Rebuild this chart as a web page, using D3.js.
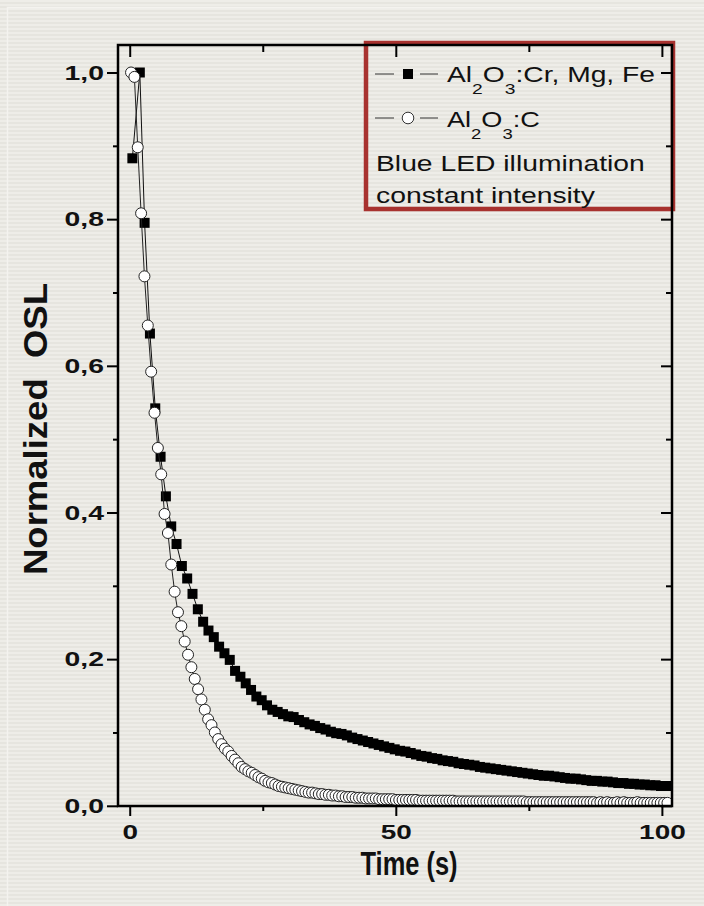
<!DOCTYPE html>
<html>
<head>
<meta charset="utf-8">
<script src="https://cdn.jsdelivr.net/npm/d3@7"></script>
<style>
  html, body { margin: 0; padding: 0; background: #ecebe6; }
  svg { display: block; }
  text { font-family: "Liberation Sans", Arial, sans-serif; fill: #111; }
</style>
</head>
<body>
<svg id="chart" width="704" height="906"></svg>
<script>
// Al2O3:Cr, Mg, Fe  (filled squares)
var crTimes = [0.5, 1.9].concat(d3.range(2.8, 101.5, 1.0));
var crValues = [
    0.883, 1.000, 0.795, 0.644, 0.542, 0.476, 0.422, 0.381, 0.357, 0.327,
    0.310, 0.289, 0.268, 0.251, 0.239, 0.230, 0.217, 0.208, 0.199, 0.184,
    0.176, 0.167, 0.158, 0.149, 0.144, 0.137, 0.131, 0.128, 0.125, 0.122,
    0.121, 0.117, 0.114, 0.111, 0.109, 0.106, 0.104, 0.101, 0.099, 0.098,
    0.096, 0.093, 0.091, 0.089, 0.087, 0.085, 0.083, 0.081, 0.079, 0.077,
    0.075, 0.074, 0.072, 0.070, 0.068, 0.067, 0.065, 0.064, 0.062, 0.061,
    0.060, 0.058, 0.057, 0.056, 0.055, 0.053, 0.052, 0.051, 0.050, 0.049,
    0.048, 0.047, 0.046, 0.045, 0.044, 0.043, 0.042, 0.041, 0.041, 0.040,
    0.039, 0.038, 0.037, 0.037, 0.036, 0.035, 0.034, 0.034, 0.033, 0.033,
    0.032, 0.031, 0.031, 0.030, 0.030, 0.029, 0.029, 0.028, 0.028, 0.027,
    0.027
];

// Al2O3:C  (open circles)
var cTimes = d3.range(0, 161).map(function (i) { return 0.25 + 0.63 * i; });
var cValues = [
    1.000, 0.994, 0.898, 0.808, 0.722, 0.655, 0.592, 0.536, 0.488, 0.452,
    0.398, 0.372, 0.329, 0.292, 0.264, 0.245, 0.224, 0.206, 0.189, 0.173,
    0.159, 0.145, 0.131, 0.118, 0.110, 0.100, 0.091, 0.084, 0.078, 0.074,
    0.068, 0.063, 0.058, 0.053, 0.050, 0.047, 0.045, 0.042, 0.039, 0.037,
    0.034, 0.032, 0.031, 0.029, 0.027, 0.026, 0.025, 0.024, 0.023, 0.022,
    0.021, 0.020, 0.019, 0.018, 0.018, 0.017, 0.016, 0.016, 0.015, 0.015,
    0.014, 0.014, 0.013, 0.013, 0.012, 0.012, 0.012, 0.011, 0.011, 0.011,
    0.010, 0.010, 0.010, 0.010, 0.009, 0.009, 0.009, 0.009, 0.009, 0.008,
    0.008, 0.008, 0.008, 0.008, 0.008, 0.008, 0.007, 0.007, 0.007, 0.007,
    0.007, 0.007, 0.007, 0.007, 0.007, 0.007, 0.007, 0.006, 0.006, 0.006,
    0.006, 0.006, 0.006, 0.006, 0.006, 0.006, 0.006, 0.006, 0.006, 0.006,
    0.006, 0.006, 0.006, 0.006, 0.006, 0.006, 0.006, 0.006, 0.005, 0.005,
    0.005, 0.005, 0.005, 0.005, 0.005, 0.005, 0.005, 0.005, 0.005, 0.005,
    0.005, 0.005, 0.005, 0.005, 0.005, 0.005, 0.005, 0.005, 0.005, 0.004,
    0.005, 0.004, 0.005, 0.004, 0.004, 0.005, 0.004, 0.005, 0.004, 0.004,
    0.004, 0.005, 0.004, 0.004, 0.004, 0.004, 0.004, 0.004, 0.004, 0.004,
    0.004
];

var xMajor = [0, 50, 100];
var xMinor = [25, 75];
var yMajor = [0, 0.2, 0.4, 0.6, 0.8, 1.0];
var yMinor = [0.1, 0.3, 0.5, 0.7, 0.9];

// legend: [text, isSubscript]
var legendNames = [
    {parts: [["Al", 0], ["2", 1], ["O", 0], ["3", 1], [":Cr, Mg, Fe", 0]], symbol: "square"},
    {parts: [["Al", 0], ["2", 1], ["O", 0], ["3", 1], [":C", 0]], symbol: "circle"}
];
var legendNotes = ["Blue LED illumination", "constant intensity"];

var svg = d3.select('#chart');

// striped slide background
var defs = svg.append('defs');
var pat = defs.append('pattern')
    .attr('id', 'stripes')
    .attr('patternUnits', 'userSpaceOnUse')
    .attr('width', 8).attr('height', 4);
pat.append('rect').attr('width', 8).attr('height', 4).attr('fill', '#eeede8');
pat.append('rect').attr('y', 2).attr('width', 8).attr('height', 2).attr('fill', '#e6e5df');

svg.append('rect').attr('width', 704).attr('height', 906).attr('fill', 'url(#stripes)');
svg.append('rect')
    .attr('x', 7.5).attr('y', 7.5).attr('width', 700).attr('height', 900)
    .attr('fill', 'none').attr('stroke', '#f4f3ef').attr('stroke-width', 1.5);

var pLeft = 118, pRight = 672, pTop = 45, pBottom = 806;

var x = d3.scaleLinear().domain([-2.2, 101.9]).range([pLeft, pRight]);
var y = d3.scaleLinear().domain([0, 1.0375]).range([805.8, pTop]);

defs.append('clipPath').attr('id', 'plotclip')
    .append('rect')
    .attr('x', pLeft).attr('y', pTop)
    .attr('width', pRight - pLeft).attr('height', pBottom - pTop);

// stretch a text horizontally so that it spans the given width
function fitWidth(node, anchorX, target) {
    var w = node.getBBox().width;
    var s = target / w;
    d3.select(node).attr('transform',
        'translate(' + anchorX + ',0) scale(' + s + ',1) translate(' + (-anchorX) + ',0)');
}

// legend box (drawn below the frame so frame ticks sit on it)
var legend = svg.append('g');
legend.append('rect')
    .attr('x', 366).attr('y', 43)
    .attr('width', 307).attr('height', 166)
    .attr('fill', 'none')
    .attr('stroke', '#a8322f')
    .attr('stroke-width', 4.5);

// data
var plot = svg.append('g').attr('clip-path', 'url(#plotclip)');

var crData = crTimes.map(function (t, i) { return [t, crValues[i]]; });
var cData = cTimes.map(function (t, i) { return [t, cValues[i]]; });

var line = d3.line()
    .x(function (d) { return x(d[0]); })
    .y(function (d) { return y(d[1]); });

plot.append('path')
    .datum(crData)
    .attr('d', line)
    .attr('fill', 'none')
    .attr('stroke', '#111')
    .attr('stroke-width', 1);

plot.selectAll('rect.sq')
    .data(crData)
    .enter()
    .append('rect')
    .attr('class', 'sq')
    .attr('x', function (d) { return x(d[0]) - 5; })
    .attr('y', function (d) { return y(d[1]) - 5; })
    .attr('width', 10)
    .attr('height', 10)
    .attr('fill', '#000');

plot.append('path')
    .datum(cData)
    .attr('d', line)
    .attr('fill', 'none')
    .attr('stroke', '#222')
    .attr('stroke-width', 1);

plot.selectAll('circle.ci')
    .data(cData)
    .enter()
    .append('circle')
    .attr('class', 'ci')
    .attr('cx', function (d) { return x(d[0]); })
    .attr('cy', function (d) { return y(d[1]); })
    .attr('r', 5.5)
    .attr('fill', '#fff')
    .attr('stroke', '#222')
    .attr('stroke-width', 1);

// axes
function styleAxis(g) {
    g.select('.domain').remove();
    g.selectAll('line').attr('stroke', '#000').attr('stroke-width', 2);
    g.selectAll('text')
        .style('font-family', '"Liberation Sans", Arial, sans-serif')
        .style('font-weight', 'bold')
        .style('font-size', '21px')
        .attr('fill', '#111');
}
var fmt = function (d) { return d3.format('.1f')(d).replace('.', ','); };

var xAxisG = svg.append('g').attr('transform', 'translate(0,' + pBottom + ')')
    .call(d3.axisBottom(x).tickValues(xMajor).tickSize(10).tickPadding(8).tickFormat(d3.format('d')))
    .call(styleAxis);
xAxisG.selectAll('text').attr('transform', 'scale(1.33,1)');

svg.append('g').attr('transform', 'translate(0,' + pBottom + ')')
    .call(d3.axisBottom(x).tickValues(xMinor).tickSize(5).tickFormat(''))
    .call(styleAxis);
svg.append('g').attr('transform', 'translate(0,' + pTop + ')')
    .call(d3.axisBottom(x).tickValues(xMajor).tickSize(12).tickFormat(''))
    .call(styleAxis);
svg.append('g').attr('transform', 'translate(0,' + pTop + ')')
    .call(d3.axisBottom(x).tickValues(xMinor).tickSize(7).tickFormat(''))
    .call(styleAxis);

var yAxisG = svg.append('g').attr('transform', 'translate(' + pLeft + ',0)')
    .call(d3.axisLeft(y).tickValues(yMajor).tickSize(11).tickPadding(3).tickFormat(fmt))
    .call(styleAxis);
yAxisG.selectAll('text').attr('transform', 'translate(-14,0) scale(1.35,1) translate(14,0)');

svg.append('g').attr('transform', 'translate(' + pLeft + ',0)')
    .call(d3.axisLeft(y).tickValues(yMinor).tickSize(5).tickFormat(''))
    .call(styleAxis);
svg.append('g').attr('transform', 'translate(' + pRight + ',0)')
    .call(d3.axisLeft(y).tickValues(yMajor).tickSize(11).tickFormat(''))
    .call(styleAxis);
svg.append('g').attr('transform', 'translate(' + pRight + ',0)')
    .call(d3.axisLeft(y).tickValues(yMinor).tickSize(6).tickFormat(''))
    .call(styleAxis);

// frame
svg.append('rect')
    .attr('x', pLeft).attr('y', pTop)
    .attr('width', pRight - pLeft).attr('height', pBottom - pTop)
    .attr('fill', 'none')
    .attr('stroke', '#000')
    .attr('stroke-width', 2.5);

// axis titles
svg.append('text')
    .attr('x', 409).attr('y', 875)
    .attr('text-anchor', 'middle')
    .attr('textLength', 97)
    .attr('lengthAdjust', 'spacingAndGlyphs')
    .style('font-weight', 'bold')
    .style('font-size', '34px')
    .text('Time (s)');

svg.append('text')
    .attr('transform', 'translate(47,429) rotate(-90)')
    .attr('text-anchor', 'middle')
    .attr('textLength', 292)
    .attr('lengthAdjust', 'spacingAndGlyphs')
    .style('font-weight', 'bold')
    .style('font-size', '33px')
    .style('white-space', 'pre')
    .text('Normalized  OSL');

// legend entries
var rowY = [74, 118];
var rowBase = [82, 127];
var nameWidth = [208, 93];
legendNames.forEach(function (item, i) {
    var g = legend.append('g');
    g.append('line')
        .attr('x1', 375).attr('x2', 394)
        .attr('y1', rowY[i]).attr('y2', rowY[i])
        .attr('stroke', '#333').attr('stroke-width', 1);
    g.append('line')
        .attr('x1', 420).attr('x2', 438)
        .attr('y1', rowY[i]).attr('y2', rowY[i])
        .attr('stroke', '#333').attr('stroke-width', 1);
    if (item.symbol === 'square') {
        g.append('rect')
            .attr('x', 408 - 5).attr('y', rowY[i] - 5)
            .attr('width', 10).attr('height', 10)
            .attr('fill', '#000');
    } else {
        g.append('circle')
            .attr('cx', 408).attr('cy', rowY[i]).attr('r', 5.8)
            .attr('fill', '#fff').attr('stroke', '#333').attr('stroke-width', 1);
    }
    var t = g.append('text')
        .attr('x', 447).attr('y', rowBase[i])
        .style('font-size', '22px');
    item.parts.forEach(function (p, j) {
        var prev = j > 0 ? item.parts[j - 1][1] : 0;
        var s = t.append('tspan').text(p[0]);
        if (p[1]) {
            s.attr('dy', prev ? 0 : 12).style('font-size', '15px');
        } else {
            s.attr('dy', prev ? -12 : 0);
        }
    });
    fitWidth(t.node(), 447, nameWidth[i]);
});

var noteWidth = [269, 219];
legend.selectAll('text.note')
    .data(legendNotes)
    .enter()
    .append('text')
    .attr('class', 'note')
    .attr('x', 376)
    .attr('y', function (d, i) { return 171 + i * 32; })
    .style('font-size', '22px')
    .text(function (d) { return d; })
    .each(function (d, i) { fitWidth(this, 376, noteWidth[i]); });
</script>
</body>
</html>
